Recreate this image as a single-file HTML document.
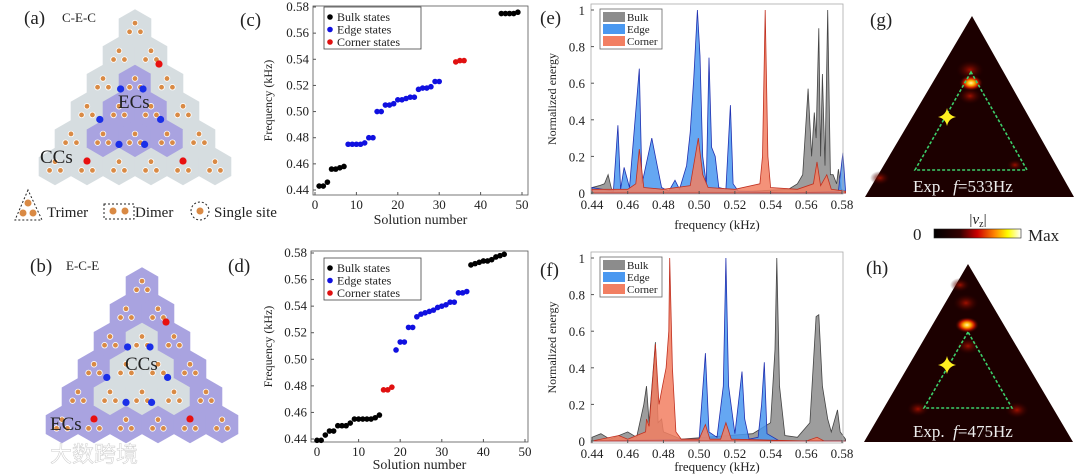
<!DOCTYPE html>
<html><head><meta charset="utf-8"><style>
body{margin:0;background:#fff}
svg{display:block;font-family:"Liberation Serif",serif}
</style></head><body>
<svg id="fig" width="1080" height="476" viewBox="0 0 1080 476" xmlns="http://www.w3.org/2000/svg">
<defs>
<linearGradient id="cbar" x1="0" x2="1" y1="0" y2="0">
<stop offset="0" stop-color="#000"/><stop offset="0.3" stop-color="#300"/><stop offset="0.5" stop-color="#c00"/><stop offset="0.7" stop-color="#f80"/><stop offset="0.85" stop-color="#ff0"/><stop offset="1" stop-color="#fff"/>
</linearGradient>
<radialGradient id="hot"><stop offset="0" stop-color="#fff6a0"/><stop offset="0.3" stop-color="#ffb000"/><stop offset="0.6" stop-color="#c81800"/><stop offset="1" stop-color="#2a0000" stop-opacity="0"/></radialGradient>
<radialGradient id="warm"><stop offset="0" stop-color="#a01000"/><stop offset="1" stop-color="#2a0000" stop-opacity="0"/></radialGradient>
</defs>
</svg>
<script>
// ---- data: panel c ----
const cBulkX=[1,2,3,4,5,6,7,45,46,47,48,49];
const cBulkY=[0.443,0.443,0.446,0.456,0.456,0.457,0.458,0.575,0.575,0.575,0.575,0.576];
const cEdgeX=[8,9,10,11,12,13,14,15,16,17,18,19,20,21,22,23,24,25,26,27,28,29,30];
const cEdgeY=[0.475,0.475,0.475,0.475,0.476,0.480,0.480,0.500,0.500,0.505,0.505,0.506,0.509,0.509,0.510,0.511,0.511,0.517,0.518,0.518,0.519,0.523,0.523];
const cCornerX=[34,35,36];
const cCornerY=[0.538,0.539,0.539];
// ---- data: panel d ----
const dBulkX=[0,1,2,3,4,5,6,7,8,9,10,11,12,13,14,15,37,38,39,40,41,42,43,44,45];
const dBulkY=[0.439,0.439,0.443,0.446,0.446,0.450,0.450,0.450,0.452,0.455,0.455,0.455,0.455,0.455,0.456,0.458,0.571,0.572,0.573,0.574,0.574,0.575,0.577,0.578,0.579];
const dEdgeX=[19,20,21,22,23,24,25,26,27,28,29,30,31,32,33,34,35,36];
const dEdgeY=[0.507,0.513,0.513,0.524,0.524,0.532,0.534,0.535,0.536,0.537,0.539,0.540,0.541,0.543,0.543,0.550,0.550,0.551];
const dCornerX=[16,17,18];
const dCornerY=[0.477,0.477,0.479];
const scatterXTicks=[0,10,20,30,40,50];
const scatterYTicks=[0.44,0.46,0.48,0.50,0.52,0.54,0.56,0.58];
// ---- data: panel e spectra ----
const eBulkF=[0.44,0.444,0.447,0.449,0.451,0.455,0.47,0.5,0.53,0.55,0.555,0.558,0.561,0.563,0.5645,0.5655,0.567,0.568,0.569,0.5705,0.572,0.5735,0.575,0.577,0.578,0.5795,0.582];
const eBulkV=[0.03,0.04,0.05,0.10,0.02,0.01,0.01,0.01,0.01,0.02,0.05,0.10,0.57,0.2,0.44,0.3,0.9,0.2,0.65,0.15,1.0,0.1,0.1,0.05,0.13,0.02,0.01];
const eEdgeF=[0.44,0.452,0.4545,0.456,0.458,0.461,0.4665,0.468,0.4735,0.4765,0.479,0.483,0.4865,0.489,0.493,0.495,0.497,0.499,0.5005,0.502,0.504,0.5055,0.507,0.509,0.511,0.515,0.5175,0.519,0.522,0.55,0.578,0.5805,0.582];
const eEdgeV=[0.03,0.01,0.37,0.02,0.14,0.03,0.68,0.05,0.3,0.15,0.03,0.01,0.07,0.02,0.15,0.33,0.63,1.0,0.75,0.2,0.05,0.74,0.25,0.2,0.03,0.02,0.48,0.05,0.01,0.0,0.01,0.22,0.01];
const eCornerF=[0.44,0.46,0.4645,0.4665,0.469,0.48,0.495,0.4995,0.502,0.505,0.52,0.534,0.5355,0.537,0.5385,0.54,0.555,0.564,0.566,0.568,0.5715,0.574,0.582];
const eCornerV=[0.02,0.02,0.05,0.24,0.03,0.02,0.04,0.3,0.1,0.03,0.02,0.05,0.2,1.0,0.2,0.03,0.02,0.05,0.17,0.04,0.1,0.02,0.01];
// ---- data: panel f spectra ----
const fBulkF=[0.44,0.445,0.45,0.46,0.465,0.469,0.4705,0.472,0.4755,0.477,0.479,0.48,0.485,0.49,0.53,0.54,0.5425,0.5435,0.545,0.548,0.555,0.562,0.5655,0.567,0.569,0.572,0.574,0.5775,0.579,0.582];
const fBulkV=[0.02,0.04,0.01,0.05,0.02,0.2,0.3,0.1,0.54,0.1,0.12,0.05,0.03,0.01,0.04,0.1,0.5,1.0,0.3,0.03,0.02,0.1,0.68,0.69,0.3,0.12,0.05,0.17,0.05,0.01];
const fEdgeF=[0.44,0.5,0.5035,0.5055,0.51,0.5135,0.515,0.5165,0.52,0.524,0.5255,0.528,0.533,0.535,0.5365,0.538,0.545,0.582];
const fEdgeV=[0.0,0.01,0.48,0.05,0.02,0.3,1.0,0.3,0.04,0.38,0.12,0.01,0.02,0.2,0.43,0.04,0.0,0.0];
const fCornerF=[0.44,0.455,0.46,0.47,0.4705,0.472,0.4755,0.4775,0.4795,0.4815,0.483,0.4835,0.485,0.487,0.49,0.5,0.5035,0.506,0.512,0.515,0.518,0.56,0.566,0.57,0.582];
const fCornerV=[0.0,0.03,0.01,0.05,0.12,0.08,0.53,0.2,0.3,0.4,0.6,1.0,0.4,0.05,0.01,0.01,0.09,0.01,0.01,0.1,0.01,0.0,0.02,0.0,0.0];
const specXTicks=[0.44,0.46,0.48,0.50,0.52,0.54,0.56,0.58];
const specYTicks=[0,0.2,0.4,0.6,0.8,1];

const NS="http://www.w3.org/2000/svg";
const svg=document.getElementById('fig');
function mk(tag,attrs,parent){const e=document.createElementNS(NS,tag);for(const k in attrs)e.setAttribute(k,attrs[k]);(parent||svg).appendChild(e);return e;}
function txt(s,x,y,size,anchor,parent,extra){const t=mk('text',Object.assign({x:x,y:y,'font-size':size,'text-anchor':anchor||'start',fill:'#222'},extra||{}),parent);t.textContent=s;return t;}
function lin(d0,d1,p0,p1){return v=>p0+(v-d0)/(d1-d0)*(p1-p0);}

// panel labels
[['(a)',24,24],['(b)',30,272],['(c)',240,26],['(d)',228,272],['(e)',540,24],['(f)',540,276],['(g)',870,26],['(h)',866,274]].forEach(p=>{
  const t=txt(p[0],p[1],p[2],19,'start');
  
  
});

// ---------- scatter panels ----------
function scatter(name,box,xd,yd,series,legendY,xlabY){
  const g=mk('g',{});
  
  
  const X=lin(xd[0],xd[1],xd[2],xd[3]),Y=lin(yd[0],yd[1],yd[2],yd[3]);
  const fr=mk('rect',{x:box[0],y:box[1],width:box[2]-box[0],height:box[3]-box[1],fill:'none',stroke:'#555','stroke-width':0.8},g);
  
  
  scatterXTicks.forEach(v=>{const x=X(v);mk('line',{x1:x,x2:x,y1:box[3],y2:box[3]-3,stroke:'#555'},g);
    const t=txt(String(v),x,box[3]+14,13,'middle',g);
    
    });
  scatterYTicks.forEach(v=>{const y=Y(v);mk('line',{x1:box[0],x2:box[0]+3,y1:y,y2:y,stroke:'#555'},g);
    const t=txt(v.toFixed(2),box[0]-4,y+4,13,'end',g);
    
    });
  const xt=txt('Solution number',(box[0]+box[2])/2,xlabY,14,'middle',g);
  
  
  const cy=(box[1]+box[3])/2;
  const yt=txt('Frequency (kHz)',272,cy,12,'middle',g,{transform:'rotate(-90 272 '+cy+')'});
  
  
  series.forEach(s=>{s.x.forEach((xv,i)=>{const c=mk('circle',{cx:X(xv),cy:Y(s.y[i]),r:2.8,fill:s.c},g);
    
    });});
  const lg=mk('g',{},g);
  
  
  mk('rect',{x:324,y:legendY,width:97,height:42,fill:'#fff',stroke:'#444','stroke-width':0.8},lg);
  [['Bulk states','#000'],['Edge states','#1010e0'],['Corner states','#e01010']].forEach((l,i)=>{
    const yy=legendY+10+i*12.5;
    const e=mk('circle',{cx:330,cy:yy,r:2.8,fill:l[1]},lg);
    
    
    const t=txt(l[0],337,yy+4,12,'start',lg);
    
    });
}
scatter('chart-c',[313,6,528,195],[0,50,315,522],[0.44,0.58,190,7],
  [{x:cBulkX,y:cBulkY,c:'#000',n:'bulk'},{x:cEdgeX,y:cEdgeY,c:'#1010e0',n:'edge'},{x:cCornerX,y:cCornerY,c:'#e01010',n:'corner'}],7,224);
scatter('chart-d',[311,251,528,442],[0,50,317,525],[0.44,0.58,439,253],
  [{x:dBulkX,y:dBulkY,c:'#000',n:'bulk'},{x:dEdgeX,y:dEdgeY,c:'#1010e0',n:'edge'},{x:dCornerX,y:dCornerY,c:'#e01010',n:'corner'}],258,469);

// ---------- spectra panels ----------
function spectra(name,box,yMap,series,ylab,xlabY){
  const g=mk('g',{});
  
  
  const X=lin(0.44,0.58,592,842),Y=lin(0,1,yMap[0],yMap[1]);
  series.forEach(s=>{
    let d='M'+X(s.f[0])+','+Y(0);
    s.f.forEach((f,i)=>{d+=' L'+X(f).toFixed(1)+','+Y(s.v[i]).toFixed(1);});
    d+=' L'+X(s.f[s.f.length-1])+','+Y(0)+'Z';
    const p=mk('path',{d:d,fill:s.fill,'fill-opacity':0.85,stroke:s.st,'stroke-width':0.8},g);
    
    
  });
  const fr=mk('rect',{x:box[0],y:box[1],width:box[2]-box[0],height:box[3]-box[1],fill:'none',stroke:'#aaa','stroke-width':0.8},g);
  
  
  specXTicks.forEach(v=>{const x=X(v);mk('line',{x1:x,x2:x,y1:box[3],y2:box[3]-3,stroke:'#555'},g);
    const t=txt(v.toFixed(2),x,box[3]+15,13,'middle',g);
    
    });
  specYTicks.forEach(v=>{const y=Y(v);mk('line',{x1:box[0],x2:box[0]+3,y1:y,y2:y,stroke:'#555'},g);
    const t=txt(String(v),box[0]-6,y+5,13,'end',g);
    
    });
  const xt=txt('frequency (kHz)',(box[0]+box[2])/2,xlabY,13,'middle',g);
  
  
  const cy=(box[1]+box[3])/2;
  const yt=txt(ylab,556,cy,12,'middle',g,{transform:'rotate(-90 556 '+cy+')'});
  
  
  const lg=mk('g',{},g);
  
  
  const ly=box[1]+5;
  mk('rect',{x:600,y:ly,width:62,height:40,fill:'#fff',stroke:'#666','stroke-width':0.8},lg);
  [['Bulk','#8c8c8c'],['Edge','#4a98f0'],['Corner','#f27f62']].forEach((l,i)=>{
    const yy=ly+3+i*12;
    const e=mk('rect',{x:603,y:yy,width:22,height:10,fill:l[1]},lg);
    
    
    const t=txt(l[0],627,yy+9,11,'start',lg);
    
    });
}
spectra('chart-e',[591,4,843,194],[193,10],[
  {f:eBulkF,v:eBulkV,fill:'#8c8c8c',st:'#444',n:'bulk'},
  {f:eEdgeF,v:eEdgeV,fill:'#4a98f0',st:'#2030b0',n:'edge'},
  {f:eCornerF,v:eCornerV,fill:'#f27f62',st:'#c03020',n:'corner'}],'Normalized energy',229);
spectra('chart-f',[591,252,843,443],[441,258],[
  {f:fBulkF,v:fBulkV,fill:'#8c8c8c',st:'#444',n:'bulk'},
  {f:fEdgeF,v:fEdgeV,fill:'#4a98f0',st:'#2030b0',n:'edge'},
  {f:fCornerF,v:fCornerV,fill:'#f27f62',st:'#c03020',n:'corner'}],'Normalized  energy',471);

// ---------- lattices ----------
function hexPts(cx,cy,s){let p=[];for(let k=0;k<6;k++){const a=Math.PI/180*(60*k-90);p.push((cx+s*Math.cos(a)).toFixed(1)+','+(cy+s*Math.sin(a)).toFixed(1));}return p.join(' ');}
function lattice(name,cx0,cy0,w,outer,inner,title,tx,ty){
  const g=mk('g',{});
  
  
  const s=w/Math.sqrt(3),dy=1.5*s;
  for(let r=0;r<6;r++)for(let i=0;i<=r;i++){
    const cx=cx0+(i-r/2)*w,cy=cy0+r*dy;
    const isIn=(i>0&&i<r&&r<5);
    const h=mk('polygon',{points:hexPts(cx,cy,s+0.3),fill:isIn?inner:outer},g);
    
    
  }
  for(let r=0;r<6;r++)for(let i=0;i<=r;i++){
    const cx=cx0+(i-r/2)*w,cy=cy0+r*dy,d=w*0.17;
    [[0,-d*0.9],[-d,d*0.7],[d,d*0.7]].forEach(o=>{
      const c=mk('circle',{cx:cx+o[0],cy:cy+o[1],r:2.8,fill:'#d98a45',stroke:'#fff','stroke-width':0.8},g);
      
      
    });
  }
  [[0.5,1],[4,0.5],[4,3.5]].forEach(q=>{const r=q[0]+0.8,cx=cx0+(q[1]-q[0]/2)*w,cy=cy0+r*dy;
    const c=mk('circle',{cx:cx,cy:cy,r:3.6,fill:'#e81010'},g);
    
    });
  [[2.2,0.65],[2.2,1.35],[3.3,0.55],[3.3,2.45],[4.2,1.6],[4.2,2.4]].forEach(q=>{const cy=cy0+q[0]*dy;
    const c=mk('circle',{cx:cx0+(q[1]-q[0]/2)*w,cy:cy,r:3.6,fill:'#1a2ee8'},g);
    
    });
  const t=txt(title,tx,ty,13,'start');
  
  
}
lattice('lattice-a',135,28,32,'#d6dde0','#a9a3e0','C-E-C',62,22);
lattice('lattice-b',142,286,32,'#a9a3e0','#d6dde0','E-C-E',66,270);
[['ECs',118,108,'ecs-label-a'],['CCs',40,163,'ccs-label-a'],['CCs',125,370,'ccs-label-b'],['ECs',50,430,'ecs-label-b']].forEach(l=>{
  const t=txt(l[0],l[1],l[2],19,'start');
  
  });
const ll=mk('g',{});


mk('polygon',{points:'28,190 15,220 42,220',fill:'none',stroke:'#222','stroke-dasharray':'2,2'},ll);
[[28,203],[23,213],[33,213]].forEach(p=>mk('circle',{cx:p[0],cy:p[1],r:3.5,fill:'#d98a45'},ll));
txt('Trimer',47,217,15,'start',ll);
mk('rect',{x:104,y:204,width:30,height:15,fill:'none',stroke:'#222','stroke-dasharray':'2,2'},ll);
[[113,211],[125,211]].forEach(p=>mk('circle',{cx:p[0],cy:p[1],r:3.5,fill:'#d98a45'},ll));
txt('Dimer',135,217,15,'start',ll);
mk('circle',{cx:200,cy:211,r:9,fill:'none',stroke:'#222','stroke-dasharray':'2,2'},ll);
mk('circle',{cx:200,cy:211,r:3.5,fill:'#d98a45'},ll);
txt('Single site',214,217,15,'start',ll);

// ---------- heatmaps ----------
function heat(name,apex,bl,br,dApex,dBl,dBr,hot,star,label,ly,warm){
  const g=mk('g',{});
  
  
  const tri=mk('polygon',{points:apex+' '+bl+' '+br,fill:'#1c0000'},g);
  
  
  warm.forEach(w=>mk('ellipse',{cx:w[0],cy:w[1],rx:w[2],ry:w[2]*0.7,fill:'url(#warm)'},g));
  const h=mk('ellipse',{cx:hot[0],cy:hot[1],rx:12,ry:8,fill:'url(#hot)'},g);
  
  
  const dt=mk('polygon',{points:dApex+' '+dBl+' '+dBr,fill:'none',stroke:'#3ccf6a','stroke-width':1.6,'stroke-dasharray':'3,2'},g);
  
  
  const sx=star[0],sy=star[1];
  const st=mk('path',{d:`M${sx},${sy-9} Q${sx+1.5},${sy-1.5} ${sx+9},${sy} Q${sx+1.5},${sy+1.5} ${sx},${sy+9} Q${sx-1.5},${sy+1.5} ${sx-9},${sy} Q${sx-1.5},${sy-1.5} ${sx},${sy-9}Z`,fill:'#ffee20'},g);
  
  
  const t=mk('text',{x:913,y:ly,'font-size':17,fill:'#eee'},g);
  t.innerHTML='Exp.&#160;&#160;<tspan font-style="italic">f</tspan>='+label;
  
  
}
heat('heatmap-g','972,16','865,197','1074,197','971,72','915,170','1027,170',[971,83],[947,117],'533Hz',192,[[970,70,14],[970,96,12],[880,178,10],[1015,165,8]]);
heat('heatmap-h','968,264','864,442','1073,442','968,332','924,408','1012,408',[967,325],[947,365],'475Hz',437,[[966,303,13],[968,346,12],[918,409,11],[1017,410,12],[960,285,10]]);
const cb=mk('g',{});


mk('rect',{x:934,y:229,width:87,height:9,fill:'url(#cbar)',stroke:'#222','stroke-width':0.6},cb);
txt('0',913,240,17,'start',cb);
txt('Max',1028,241,17,'start',cb);
const vz=mk('text',{x:978,y:224,'font-size':15,'text-anchor':'middle',fill:'#222'},cb);
vz.innerHTML='|<tspan font-style="italic">v</tspan><tspan font-size="10" dy="3">z</tspan><tspan dy="-3">|</tspan>';
const wm=txt('大数跨境',50,462,22,'start',null,{fill:'#fff','fill-opacity':0.85,'font-family':'"Liberation Sans","Noto Sans CJK SC",sans-serif',stroke:'#ccc','stroke-width':0.5});


</script>
</body></html>
